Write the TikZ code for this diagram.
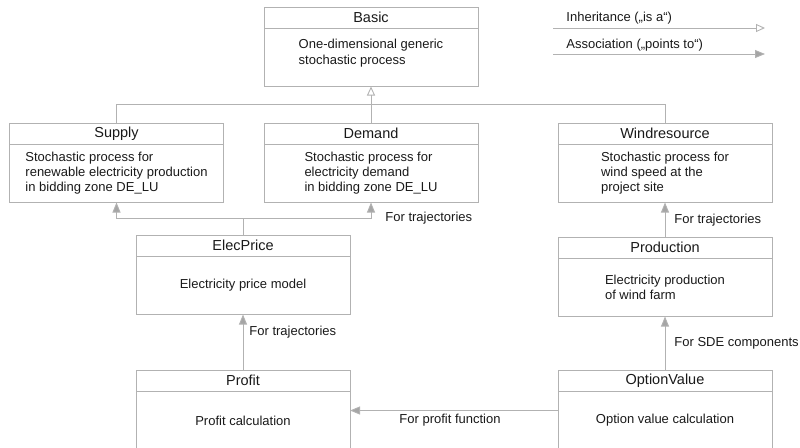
\documentclass[tikz,border=0pt]{standalone}
\usepackage{fontspec}
\setmainfont{Liberation Sans}
\usetikzlibrary{positioning,arrows.meta}
\definecolor{linegray}{RGB}{178,178,178}
\definecolor{tipgray}{RGB}{165,165,165}
\definecolor{txt}{RGB}{25,25,25}
\begin{document}
\begin{tikzpicture}[x=1pt, y=-1pt, line width=0.9pt,
    head/.style = {draw=linegray, outer sep=0pt, inner sep=0pt, minimum width=214pt, minimum height=21.5pt, text=txt, font=\fontsize{14.5}{16}\selectfont},
    body/.style = {draw=linegray, outer sep=0pt, inner sep=0pt, minimum width=214pt, minimum height=58pt, align=left, text=txt, font=\fontsize{13}{15}\selectfont},
    inh/.style = {draw=linegray, -{Triangle[open, width=8pt, length=9pt]}},
    assoc/.style = {draw=linegray, -{Triangle[width=8pt, length=10pt, fill=tipgray]}},
    lbl/.style = {text=txt, font=\fontsize{13}{15}\selectfont, inner sep=0pt}]
    \useasboundingbox (0,0) rectangle (800,447);
    % classes
    \node[head, anchor=north west] (basicH) at (264,7) {Basic};
    \node[body, below=0pt of basicH] (basic) {One-dimensional generic\\[1pt]stochastic process\\[-8pt]\strut};
    \node[head, anchor=north west] (supplyH) at (9.5,123) {Supply};
    \node[body, below=0pt of supplyH] (supply) {Stochastic process for\\renewable electricity production\\in bidding zone DE\_LU};
    \node[head, anchor=north west] (demandH) at (264,123) {Demand};
    \node[body, below=0pt of demandH] (demand) {Stochastic process for\\electricity demand\\in bidding zone DE\_LU};
    \node[head, anchor=north west] (windH) at (558,123) {Windresource};
    \node[body, below=0pt of windH] (wind) {Stochastic process for\\wind speed at the\\project site};
    \node[head, anchor=north west] (elecH) at (136,235) {ElecPrice};
    \node[body, below=0pt of elecH] (elec) {Electricity price model};
    \node[head, anchor=north west] (prodH) at (558,237) {Production};
    \node[body, below=0pt of prodH] (prod) {Electricity production\\of wind farm};
    \node[head, anchor=north west] (profitH) at (136,370) {Profit};
    \node[body, below=0pt of profitH] (profit) {Profit calculation};
    \node[head, anchor=north west] (optH) at (558,370) {OptionValue};
    \node[body, below=0pt of optH] (opt) {Option value calculation};
    % inheritance
    \draw[linegray] (supplyH.north) -- ++(0,-19) -| (windH.north);
    \draw[inh] (demandH.north) -- (basic.south);
    % associations
    \draw[linegray] (elecH.north) -- ++(0,-17) coordinate (ej);
    \draw[assoc] (ej) -| (supply.south);
    \draw[assoc] (ej) -| (demand.south) node[lbl, pos=0.5, anchor=west, xshift=14pt] {For trajectories};
    \draw[assoc] (prodH.north) -- (wind.south) node[lbl, midway, right=9pt] {For trajectories};
    \draw[assoc] (profitH.north) -- (elec.south) node[lbl, pos=0.68, right=6pt] {For trajectories};
    \draw[assoc] (optH.north) -- (prod.south) node[lbl, midway, right=9pt] {For SDE components};
    \draw[assoc] ([yshift=10pt]opt.west) -- ([yshift=10pt]profit.east) node[lbl, midway, below=3pt, xshift=-4pt] {For profit function};
    % legend
    \coordinate (inhA) at (553,28);
    \coordinate (inhB) at (765,28);
    \coordinate (assA) at (553,54);
    \coordinate (assB) at (765,54);
    \draw[inh] (inhA) -- (inhB) node[lbl, pos=0, anchor=base west, xshift=13pt, yshift=7pt] {Inheritance („is a“)};
    \draw[assoc] (assA) -- (assB) node[lbl, pos=0, anchor=base west, xshift=13pt, yshift=6pt] {Association („points to“)};
  \end{tikzpicture}
\end{document}
